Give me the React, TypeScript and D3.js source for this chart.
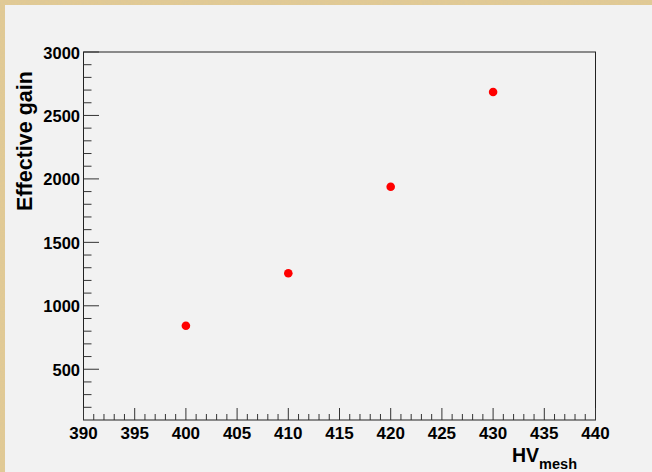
import React from "react";
import * as d3 from "d3";

const hvValues = [400, 410, 420, 430];
const gainValues = [843, 1256, 1938, 2685];
const xTickLabels = [390, 395, 400, 405, 410, 415, 420, 425, 430, 435, 440];
const yTickLabels = [500, 1000, 1500, 2000, 2500, 3000];
const xTitle = "HV";
const xTitleSub = "mesh";
const yTitle = "Effective gain";

const W = 652;
const H = 472;
const frame = { left: 83.5, right: 595.5, top: 52, bottom: 420 };
const FONT = "'Liberation Sans', Arial, Helvetica, sans-serif";

export default function App() {
  const x = d3.scaleLinear().domain([390, 440]).range([frame.left, frame.right]);
  const y = d3.scaleLinear().domain([100, 3000]).range([frame.bottom, frame.top]);

  const xMinor = d3.range(391, 440, 1).filter((v) => v % 5 !== 0);
  const yMinor = d3.range(200, 3000, 100).filter((v) => v % 500 !== 0);

  return (
    <svg
      width={W}
      height={H}
      style={{ position: "absolute", left: 0, top: 0, display: "block" }}
    >
      <defs>
        <filter id="paper" x="0" y="0" width="100%" height="100%">
          <feTurbulence type="fractalNoise" baseFrequency="0.7" numOctaves="3" seed="5" result="n" />
          <feColorMatrix
            in="n"
            type="matrix"
            values="0 0 0 0 0.72  0 0 0 0 0.58  0 0 0 0 0.32  0 0 0 -2 1.3"
          />
        </filter>
      </defs>
      <rect x={0} y={0} width={W} height={H} fill="#e2ca94" />
      <rect x={0} y={0} width={W} height={H} filter="url(#paper)" />
      <rect x={5} y={5} width={W - 5} height={H - 5} fill="#f2f2f2" />

      {/* frame */}
      <rect
        x={frame.left}
        y={frame.top}
        width={frame.right - frame.left}
        height={frame.bottom - frame.top}
        fill="none"
        stroke="#222"
        strokeWidth={1}
      />

      {/* x ticks */}
      {xTickLabels.map((v) => (
        <line
          key={"xM" + v}
          x1={x(v)}
          x2={x(v)}
          y1={frame.bottom}
          y2={frame.bottom - 12}
          stroke="#333"
          strokeWidth={1}
        />
      ))}
      {xMinor.map((v) => (
        <line
          key={"xm" + v}
          x1={x(v)}
          x2={x(v)}
          y1={frame.bottom}
          y2={frame.bottom - 6}
          stroke="#333"
          strokeWidth={1}
        />
      ))}
      {xTickLabels.map((v) => (
        <text
          key={"xl" + v}
          x={x(v)}
          y={438.5}
          textAnchor="middle"
          fontFamily={FONT}
          fontWeight="bold"
          fontSize={17}
          fill="#000"
        >
          {v}
        </text>
      ))}

      {/* y ticks */}
      {yTickLabels.map((v) => (
        <line
          key={"yM" + v}
          x1={frame.left}
          x2={frame.left + 15.5}
          y1={y(v)}
          y2={y(v)}
          stroke="#333"
          strokeWidth={1}
        />
      ))}
      {yMinor.map((v) => (
        <line
          key={"ym" + v}
          x1={frame.left}
          x2={frame.left + 8}
          y1={y(v)}
          y2={y(v)}
          stroke="#333"
          strokeWidth={1}
        />
      ))}
      {yTickLabels.map((v) => (
        <text
          key={"yl" + v}
          x={80}
          y={y(v) + 6.5}
          textAnchor="end"
          fontFamily={FONT}
          fontWeight="bold"
          fontSize={16.5}
          fill="#000"
        >
          {v}
        </text>
      ))}

      {/* points */}
      {hvValues.map((hv, i) => (
        <circle key={"p" + i} cx={x(hv)} cy={y(gainValues[i])} r={4.3} fill="#ff0000" />
      ))}

      {/* axis titles */}
      <text
        x={577}
        y={461.7}
        textAnchor="end"
        fontFamily={FONT}
        fontWeight="bold"
        fontSize={19.5}
        fill="#000"
      >
        {xTitle}
        <tspan fontSize={14.5} dy={7.5}>
          {xTitleSub}
        </tspan>
      </text>
      <text
        transform={`translate(31.5, 141) rotate(-90)`}
        textAnchor="middle"
        fontFamily={FONT}
        fontWeight="bold"
        fontSize={21.5}
        fill="#000"
      >
        {yTitle}
      </text>
    </svg>
  );
}
